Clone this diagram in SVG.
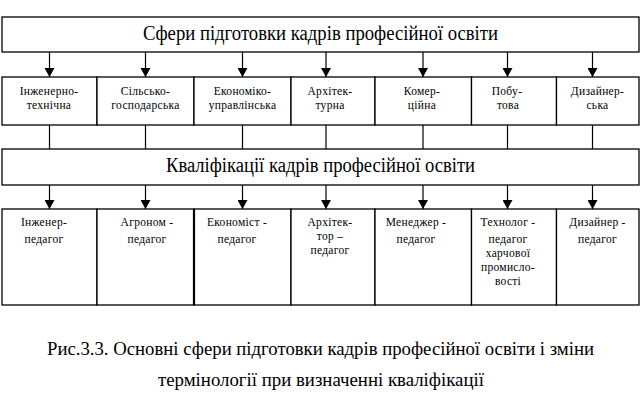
<svg xmlns="http://www.w3.org/2000/svg" width="642" height="403" viewBox="0 0 642 403">
<defs>
<marker id="ah" markerWidth="9" markerHeight="10" refX="9" refY="5" orient="auto" markerUnits="userSpaceOnUse" viewBox="0 0 9 10">
<path d="M0,0 L9,5 L0,10 Z" fill="#000"/>
</marker>
</defs>
<style>
.box{fill:#fff;stroke:#000;stroke-width:1.3}
.ln{stroke:#000;stroke-width:1.2;fill:none}
text{fill:#000;text-anchor:middle}
.big{font-size:20px}
.sm{font-size:11.5px;letter-spacing:0.3px}
.cap{font-size:19px}
</style>
<rect width="642" height="403" fill="#fff"/>

<g id="connectors">
<line class="ln" x1="49.5" y1="52" x2="49.5" y2="77" marker-end="url(#ah)"/>
<line class="ln" x1="145.5" y1="52" x2="145.5" y2="77" marker-end="url(#ah)"/>
<line class="ln" x1="242.5" y1="52" x2="242.5" y2="77" marker-end="url(#ah)"/>
<line class="ln" x1="326" y1="52" x2="326" y2="77" marker-end="url(#ah)"/>
<line class="ln" x1="423" y1="52" x2="423" y2="77" marker-end="url(#ah)"/>
<line class="ln" x1="507.5" y1="52" x2="507.5" y2="77" marker-end="url(#ah)"/>
<line class="ln" x1="592.5" y1="52" x2="592.5" y2="77" marker-end="url(#ah)"/>

<line class="ln" x1="49.5" y1="125" x2="49.5" y2="149"/>
<line class="ln" x1="145.5" y1="125" x2="145.5" y2="149"/>
<line class="ln" x1="242.5" y1="125" x2="242.5" y2="149"/>
<line class="ln" x1="326" y1="125" x2="326" y2="149"/>
<line class="ln" x1="423" y1="125" x2="423" y2="149"/>
<line class="ln" x1="507.5" y1="125" x2="507.5" y2="149"/>
<line class="ln" x1="592.5" y1="125" x2="592.5" y2="149"/>

<line class="ln" x1="49.5" y1="185" x2="49.5" y2="209" marker-end="url(#ah)"/>
<line class="ln" x1="145.5" y1="185" x2="145.5" y2="209" marker-end="url(#ah)"/>
<line class="ln" x1="242.5" y1="185" x2="242.5" y2="209" marker-end="url(#ah)"/>
<line class="ln" x1="326" y1="185" x2="326" y2="209" marker-end="url(#ah)"/>
<line class="ln" x1="423" y1="185" x2="423" y2="209" marker-end="url(#ah)"/>
<line class="ln" x1="507.5" y1="185" x2="507.5" y2="209" marker-end="url(#ah)"/>
<line class="ln" x1="592.5" y1="185" x2="592.5" y2="209" marker-end="url(#ah)"/>
</g>

<g font-family="'Liberation Serif', 'Times New Roman', 'DejaVu Serif', serif">
<g id="spheres">
<rect class="box" x="2" y="17" width="637" height="35"/>
<text class="big" x="320.5" y="40" textLength="355" lengthAdjust="spacingAndGlyphs">Сфери підготовки кадрів професійної освіти</text>
</g>

<g id="s1"><rect class="box" x="2" y="77" width="95" height="48"/>
<text class="sm" x="49" y="95">Інженерно-</text><text class="sm" x="49" y="109">технічна</text></g>
<g id="s2"><rect class="box" x="97" y="77" width="97" height="48"/>
<text class="sm" x="145.5" y="95">Сільсько-</text><text class="sm" x="145.5" y="109">господарська</text></g>
<g id="s3"><rect class="box" x="194" y="77" width="97" height="48"/>
<text class="sm" x="242.5" y="95">Економіко-</text><text class="sm" x="242.5" y="109">управлінська</text></g>
<g id="s4"><rect class="box" x="291" y="77" width="84" height="48"/>
<text class="sm" x="330" y="95">Архітек-</text><text class="sm" x="330" y="109">турна</text></g>
<g id="s5"><rect class="box" x="375" y="77" width="96.5" height="48"/>
<text class="sm" x="422" y="95">Комер-</text><text class="sm" x="422" y="109">ційна</text></g>
<g id="s6"><rect class="box" x="471.5" y="77" width="85" height="48"/>
<text class="sm" x="507" y="95">Побу-</text><text class="sm" x="508" y="109">това</text></g>
<g id="s7"><rect class="box" x="556.5" y="77" width="82.5" height="48"/>
<text class="sm" x="597.5" y="95">Дизайнер-</text><text class="sm" x="597.5" y="109">ська</text></g>

<g id="qualifications">
<rect class="box" x="2" y="149" width="637" height="36"/>
<text class="big" x="320.5" y="172" textLength="309" lengthAdjust="spacingAndGlyphs">Кваліфікації кадрів професійної освіти</text>
</g>

<g id="q1"><rect class="box" x="2" y="209" width="95" height="96"/>
<text class="sm" x="44" y="226">Інженер-</text><text class="sm" x="44" y="243">педагог</text></g>
<g id="q2"><rect class="box" x="97" y="209" width="97" height="96"/>
<text class="sm" x="147" y="226">Агроном -</text><text class="sm" x="147" y="243">педагог</text></g>
<g id="q3"><rect class="box" x="194" y="209" width="97" height="96"/>
<line x1="194" y1="209" x2="194" y2="305" stroke="#000" stroke-width="2.2"/>
<text class="sm" x="237" y="226">Економіст -</text><text class="sm" x="237" y="243">педагог</text></g>
<g id="q4"><rect class="box" x="291" y="209" width="84" height="96"/>
<text class="sm" x="330" y="226">Архітек-</text><text class="sm" x="330" y="240">тор –</text><text class="sm" x="330" y="254">педагог</text></g>
<g id="q5"><rect class="box" x="375" y="209" width="96.5" height="96"/>
<text class="sm" x="416" y="226">Менеджер -</text><text class="sm" x="416" y="243">педагог</text></g>
<g id="q6"><rect class="box" x="471.5" y="209" width="85" height="96"/>
<text class="sm" x="508" y="226">Технолог -</text><text class="sm" x="508" y="243">педагог</text><text class="sm" x="508" y="257">харчової</text><text class="sm" x="508" y="271">промисло-</text><text class="sm" x="508" y="285">вості</text></g>
<g id="q7"><rect class="box" x="556.5" y="209" width="82.5" height="96"/>
<text class="sm" x="597.5" y="226">Дизайнер -</text><text class="sm" x="597.5" y="243">педагог</text></g>

<g id="caption">
<text class="cap" x="320.5" y="355" textLength="547" lengthAdjust="spacingAndGlyphs">Рис.3.3. Основні сфери підготовки кадрів професійної освіти і зміни</text>
<text class="cap" x="321" y="386" textLength="326" lengthAdjust="spacingAndGlyphs">термінології при визначенні кваліфікації</text>
</g>
</g>
</svg>
